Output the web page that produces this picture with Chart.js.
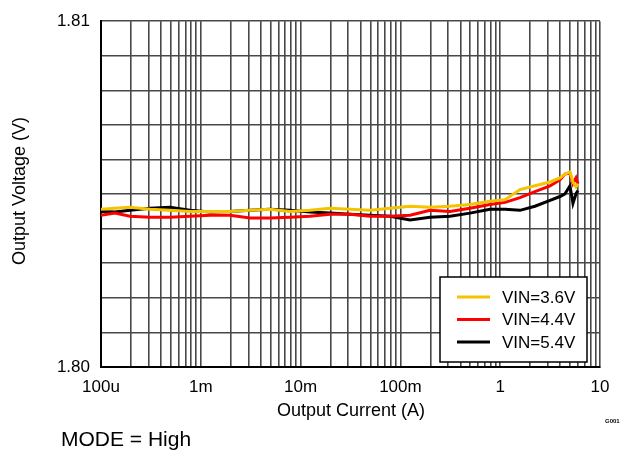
<!DOCTYPE html>
<html>
<head>
<meta charset="utf-8">
<style>
  html, body { margin: 0; padding: 0; background: #fff; }
  #wrap { width: 625px; height: 457px; position: relative; }
</style>
<script src="https://cdn.jsdelivr.net/npm/chart.js@4.4.1/dist/chart.umd.min.js"></script>
</head>
<body>
<div id="wrap"><canvas id="chart" width="625" height="457"></canvas></div>
<script>
// Output current (A), shared by all three traces
const current = [1.0e-4, 1.38e-4, 1.95e-4, 3.10e-4, 4.91e-4, 7.79e-4, 1.24e-3, 1.96e-3,
    3.11e-3, 4.93e-3, 7.83e-3, 1.24e-2, 1.97e-2, 3.13e-2, 4.96e-2, 7.87e-2, 0.125, 0.198,
    0.314, 0.498, 0.790, 1.12, 1.58, 2.23, 3.16, 3.97, 4.46, 5.00, 5.36, 5.75, 6.02];

const vin36 = [1.80456, 1.80459, 1.80462, 1.80456, 1.80453, 1.80450, 1.80450, 1.80450,
    1.80453, 1.80456, 1.80450, 1.80453, 1.80459, 1.80456, 1.80453, 1.80459, 1.80465, 1.80462,
    1.80465, 1.80470, 1.80479, 1.80484, 1.80513, 1.80524, 1.80535, 1.80547, 1.80558, 1.80564,
    1.80535, 1.80521, 1.80530];

const vin44 = [1.80439, 1.80445, 1.80436, 1.80433, 1.80433, 1.80436, 1.80439, 1.80439,
    1.80431, 1.80431, 1.80433, 1.80436, 1.80442, 1.80442, 1.80436, 1.80436, 1.80439, 1.80453,
    1.80450, 1.80459, 1.80470, 1.80476, 1.80490, 1.80507, 1.80524, 1.80541, 1.80558, 1.80561,
    1.80530, 1.80547, 1.80530];

const vin54 = [1.80450, 1.80448, 1.80453, 1.80459, 1.80462, 1.80453, 1.80448, 1.80450,
    1.80453, 1.80456, 1.80453, 1.80448, 1.80445, 1.80442, 1.80439, 1.80436, 1.80425, 1.80433,
    1.80436, 1.80445, 1.80456, 1.80456, 1.80453, 1.80465, 1.80482, 1.80493, 1.80501, 1.80524,
    1.80473, 1.80501, 1.80510];

const seriesLabels = ['VIN=3.6V', 'VIN=4.4V', 'VIN=5.4V'];
const seriesColors = ['#f5c400', '#ff0000', '#000000'];

const xDecades = [1e-4, 1e-3, 1e-2, 1e-1, 1, 10];
const xTickLabels = ['100u', '1m', '10m', '100m', '1', '10'];
const yTicks = [1.800, 1.801, 1.802, 1.803, 1.804, 1.805, 1.806, 1.807, 1.808, 1.809, 1.810];
const yTickLabels = ['1.80', '', '', '', '', '', '', '', '', '', '1.81'];

// all 1..9 x 10^k grid positions between 100u and 10
const xGrid = [];
for (let d = 0; d < xDecades.length - 1; d++) {
    for (let m = 1; m < 10; m++) xGrid.push(xDecades[d] * m);
}
xGrid.push(10);

const FONT = "'Liberation Sans', Arial, sans-serif";

function toPoints(ys) {
    return current.map((x, i) => ({ x: x, y: ys[i] }));
}

// legend box, axis titles and footnotes
const extras = {
    id: 'extras',
    afterDraw(chart) {
        const ctx = chart.ctx;
        ctx.save();
        ctx.fillStyle = '#000';

        // y title
        ctx.font = '18px ' + FONT;
        ctx.textAlign = 'center';
        ctx.textBaseline = 'middle';
        ctx.save();
        ctx.translate(20, 191);
        ctx.rotate(-Math.PI / 2);
        ctx.fillText('Output Voltage (V)', 0, 0);
        ctx.restore();

        // x title
        ctx.fillText('Output Current (A)', 351, 411);

        // footnotes
        ctx.font = '21px ' + FONT;
        ctx.textAlign = 'left';
        ctx.fillText('MODE = High', 61, 440);
        ctx.font = 'bold 6px ' + FONT;
        ctx.fillText('G001', 605, 421);

        // legend
        const bx = 440, by = 277, bw = 147, bh = 85;
        ctx.fillStyle = '#fff';
        ctx.fillRect(bx, by, bw, bh);
        ctx.lineWidth = 1.5;
        ctx.strokeStyle = '#000';
        ctx.strokeRect(bx, by, bw, bh);
        ctx.font = '17px ' + FONT;
        ctx.textBaseline = 'middle';
        chart.data.datasets.forEach((ds, i) => {
            const y = by + 20 + i * 22.5;
            ctx.strokeStyle = ds.borderColor;
            ctx.lineWidth = 3;
            ctx.beginPath();
            ctx.moveTo(bx + 17, y);
            ctx.lineTo(bx + 50, y);
            ctx.stroke();
            ctx.fillStyle = '#000';
            ctx.fillText(ds.label, bx + 62, y + 1);
        });
        ctx.restore();
    }
};

new Chart(document.getElementById('chart'), {
    type: 'line',
    data: {
        datasets: [
            { label: seriesLabels[0], data: toPoints(vin36), borderColor: seriesColors[0] },
            { label: seriesLabels[1], data: toPoints(vin44), borderColor: seriesColors[1] },
            { label: seriesLabels[2], data: toPoints(vin54), borderColor: seriesColors[2] }
        ]
    },
    options: {
        responsive: false,
        animation: false,
        layout: { padding: { left: 0, right: 25, top: 14, bottom: 0 } },
        elements: {
            point: { radius: 0 },
            line: { borderWidth: 3, tension: 0 }
        },
        plugins: {
            legend: { display: false },
            tooltip: { enabled: false }
        },
        scales: {
            x: {
                type: 'logarithmic',
                min: 1e-4,
                max: 10,
                afterBuildTicks: scale => { scale.ticks = xGrid.map(v => ({ value: v })); },
                afterFit: scale => { scale.height = 90; },
                grid: { color: '#484848', lineWidth: 1.6, drawTicks: false },
                border: { color: '#000', width: 2 },
                ticks: {
                    autoSkip: false,
                    maxRotation: 0,
                    padding: 10,
                    color: '#000',
                    font: { family: FONT, size: 17 },
                    callback: function(value) {
                        const i = xDecades.findIndex(d => Math.abs(Math.log10(d) - Math.log10(value)) < 1e-6);
                        return i >= 0 ? xTickLabels[i] : '';
                    }
                }
            },
            y: {
                min: 1.80,
                max: 1.81,
                afterBuildTicks: scale => { scale.ticks = yTicks.map(v => ({ value: v })); },
                afterFit: scale => { scale.width = 101; },
                grid: { color: '#484848', lineWidth: 1.6, drawTicks: false },
                border: { color: '#000', width: 2 },
                ticks: {
                    padding: 11,
                    color: '#000',
                    font: { family: FONT, size: 17 },
                    callback: function(value, index) { return yTickLabels[index]; }
                }
            }
        }
    },
    plugins: [extras]
});
</script>
</body>
</html>
